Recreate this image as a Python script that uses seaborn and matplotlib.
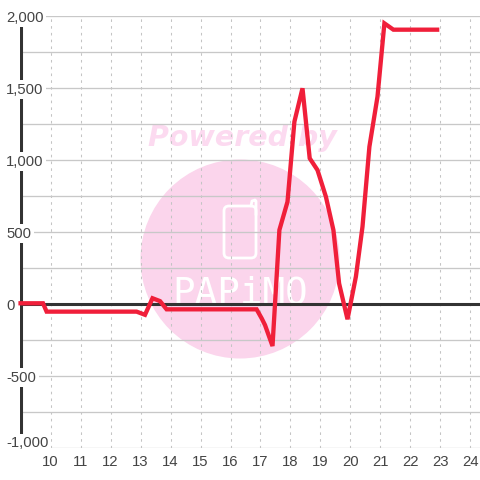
import matplotlib
matplotlib.use('Agg')
import matplotlib.pyplot as plt
import seaborn as sns
import pandas as pd
from matplotlib.patches import Circle, FancyBboxPatch

hours = [8.93, 9.75, 9.87, 12.87, 13.15, 13.4, 13.65, 13.87, 16.87, 17.04, 17.15, 17.4,
         17.63, 17.9, 18.13, 18.4, 18.64, 18.9, 19.18, 19.43, 19.62, 19.9, 20.18, 20.4,
         20.63, 20.9, 21.13, 21.43, 22.96]
values = [5, 5, -53, -53, -75, 40, 20, -37, -37, -100, -146, -292,
          514, 710, 1266, 1498, 1012, 930, 745, 514, 143, -106, 190, 537,
          1092, 1440, 1949, 1905, 1905]
x_ticks = list(range(10, 25))
y_ticks = list(range(-1000, 2001, 500))
y_minor = list(range(-750, 2000, 500))

sns.set_style('white')
plt.rcParams['font.family'] = ['Liberation Sans', 'DejaVu Sans']

df = pd.DataFrame({'hour': hours, 'value': values})

fig = plt.figure(figsize=(4.8, 4.8), dpi=100)
# pixel box: x 20..480, y 16..448
ax = fig.add_axes([20 / 480, 32 / 480, 460 / 480, 432 / 480])
ax.set_xlim(8.983, 24.317)
ax.set_ylim(-1000, 2000)
for s in ax.spines.values():
    s.set_visible(False)

# grid
for t in x_ticks:
    ax.axvline(t, color='#c4c4c4', lw=0.75, ls=(0, (2.5, 4)), zorder=1)
for t in y_ticks + y_minor:
    ax.axhline(t, color='#c8c8c8', lw=0.95, zorder=1)

# watermark, in figure pixels
ov = fig.add_axes([0, 0, 1, 1], zorder=0.5)
ov.set_xlim(0, 480)
ov.set_ylim(480, 0)
ov.axis('off')
ov.patch.set_alpha(0)
ov.add_patch(Circle((240, 259), 99.5, fc='#fbd5ec', ec='none'))
ov.add_patch(FancyBboxPatch((224, 206), 32, 52, boxstyle='round,pad=0,rounding_size=5',
                            fc='none', ec='white', lw=2))
ov.plot([251, 252, 255, 256, 256], [206, 201, 200, 201, 215], color='white', lw=2)
ov.text(242, 146, 'Powered by', color='#fcdaf0', fontsize=20.5, fontweight='bold',
        fontstyle='italic', ha='center', va='baseline', family=['DejaVu Sans'])
ov.text(240, 303, 'PAPiMO', color='white', fontsize=27, ha='center', va='baseline',
        family=['DejaVu Sans Mono'])
ax.set_zorder(1)
ax.patch.set_alpha(0)

ax.axvline(9, color='#333333', lw=2.2, zorder=2)
ax.axhline(0, color='#333333', lw=2.2, zorder=2)
sns.lineplot(data=df, x='hour', y='value', color='#f01f3a', lw=3.1, sort=False,
             errorbar=None, ax=ax, zorder=3, solid_joinstyle='miter', solid_capstyle='butt',
             clip_on=False)

ax.set_xlabel('')
ax.set_ylabel('')
ax.set_xticks(x_ticks)
ax.set_yticks([])
ax.tick_params(axis='x', length=0, pad=5, labelsize=10.7, labelcolor='#444444')

label_x = 8.517  # about 6 px from the left edge
for t in y_ticks:
    # the lowest label sits a little above its gridline
    y = t + 42 if t == -1000 else t
    ax.text(label_x, y, f'{t:,}', ha='left', va='center_baseline', fontsize=10.7, color='#444444',
            zorder=4, clip_on=False, bbox=dict(fc='white', ec='none', pad=2))

fig.savefig('out.png', dpi=100)
